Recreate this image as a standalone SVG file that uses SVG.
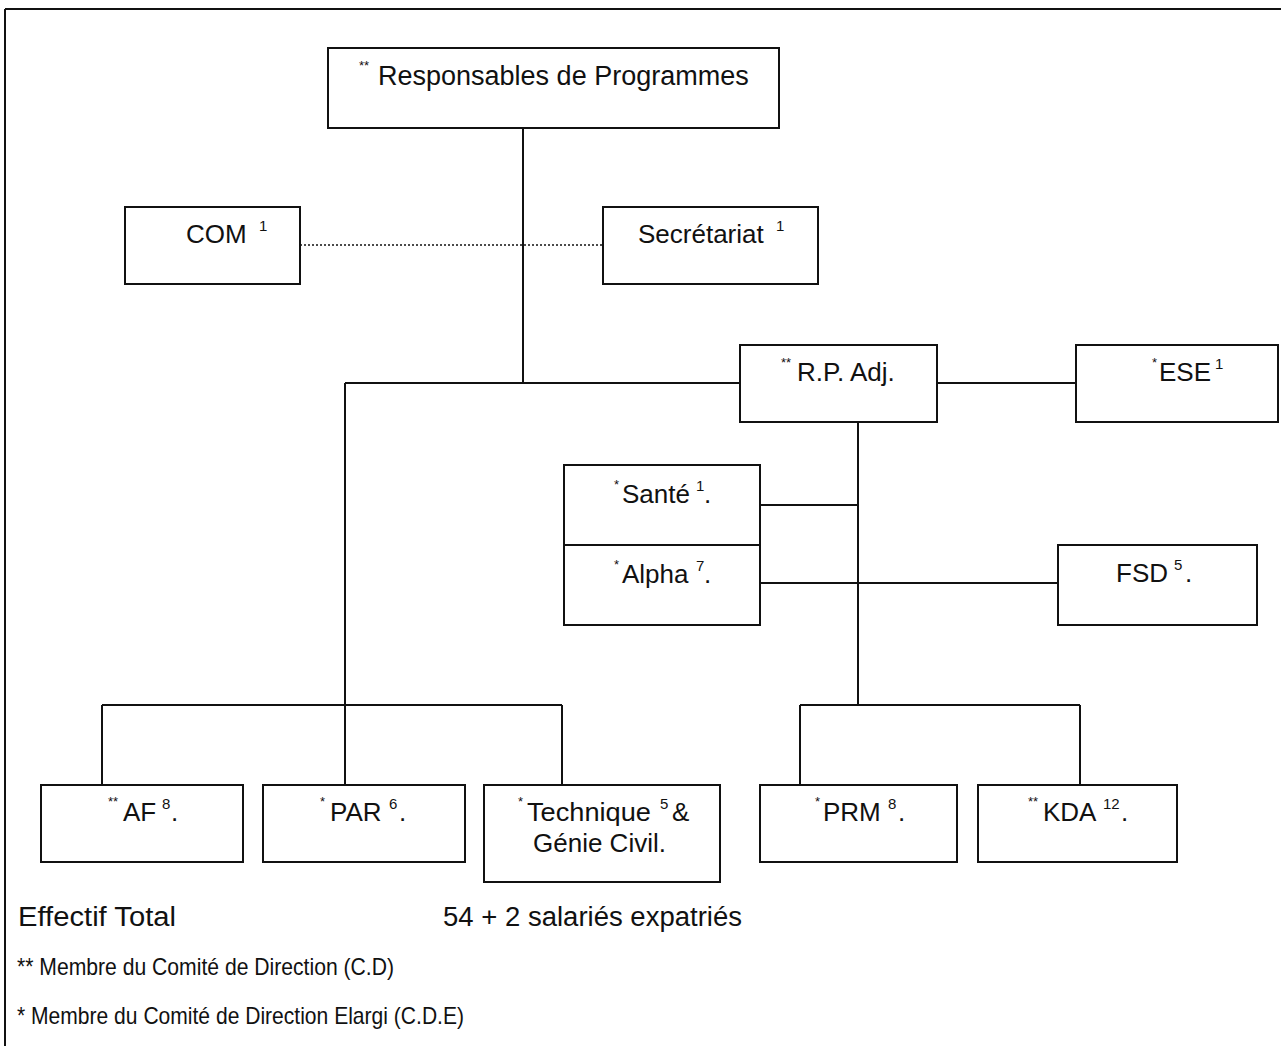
<svg xmlns="http://www.w3.org/2000/svg" width="1281" height="1046" viewBox="0 0 1281 1046">
<style>
.box{fill:#fff;stroke:#111;stroke-width:2}
.ln{stroke:#111;stroke-width:2;fill:none}
.dot{stroke:#111;stroke-width:1.6;stroke-dasharray:2 2;fill:none}
text{font-family:"Liberation Sans",Arial,sans-serif;fill:#111}
.t{font-size:26px}
.s{font-size:15px}
.m{font-size:13px}
.f{font-size:24px}
.g{font-size:27px}
</style>
<rect width="1281" height="1046" fill="#fff"/>
<g id="frame">
<line class="ln" x1="5" y1="9" x2="1281" y2="9"/>
<line class="ln" x1="5" y1="9" x2="5" y2="1046"/>
</g>
<g id="connectors">
<line class="ln" x1="523" y1="128" x2="523" y2="383"/>
<line class="dot" x1="300" y1="245" x2="603" y2="245"/>
<line class="ln" x1="345" y1="383" x2="740" y2="383"/>
<line class="ln" x1="937" y1="383" x2="1076" y2="383"/>
<line class="ln" x1="345" y1="383" x2="345" y2="785"/>
<line class="ln" x1="102" y1="705" x2="562" y2="705"/>
<line class="ln" x1="102" y1="705" x2="102" y2="785"/>
<line class="ln" x1="562" y1="705" x2="562" y2="785"/>
<line class="ln" x1="858" y1="422" x2="858" y2="705"/>
<line class="ln" x1="760" y1="505" x2="858" y2="505"/>
<line class="ln" x1="760" y1="583" x2="1058" y2="583"/>
<line class="ln" x1="800" y1="705" x2="1080" y2="705"/>
<line class="ln" x1="800" y1="705" x2="800" y2="785"/>
<line class="ln" x1="1080" y1="705" x2="1080" y2="785"/>
</g>
<g id="n-rp">
<rect class="box" x="328" y="48" width="451" height="80"/>
<text class="m" x="359" y="70">**</text>
<text class="g" x="378" y="85">Responsables de Programmes</text>
</g>
<g id="n-com">
<rect class="box" x="125" y="207" width="175" height="77"/>
<text class="t" x="186" y="243">COM</text>
<text class="s" x="259" y="231">1</text>
</g>
<g id="n-sec">
<rect class="box" x="603" y="207" width="215" height="77"/>
<text class="t" x="638" y="243">Secrétariat</text>
<text class="s" x="776" y="231">1</text>
</g>
<g id="n-rpadj">
<rect class="box" x="740" y="345" width="197" height="77"/>
<text class="m" x="781" y="367">**</text>
<text class="t" x="797" y="381">R.P. Adj.</text>
</g>
<g id="n-ese">
<rect class="box" x="1076" y="345" width="202" height="77"/>
<text class="m" x="1152" y="367">*</text>
<text class="t" x="1159" y="381">ESE</text>
<text class="s" x="1215" y="369">1</text>
</g>
<g id="n-sante">
<rect class="box" x="564" y="465" width="196" height="80"/>
<text class="m" x="614" y="489">*</text>
<text class="t" x="622" y="503">Santé</text>
<text class="s" x="696" y="491">1</text>
<text class="t" x="704" y="503">.</text>
</g>
<g id="n-alpha">
<rect class="box" x="564" y="545" width="196" height="80"/>
<text class="m" x="614" y="569">*</text>
<text class="t" x="622" y="583">Alpha</text>
<text class="s" x="696" y="571">7</text>
<text class="t" x="704" y="583">.</text>
</g>
<g id="n-fsd">
<rect class="box" x="1058" y="545" width="199" height="80"/>
<text class="t" x="1116" y="582">FSD</text>
<text class="s" x="1174" y="570">5</text>
<text class="t" x="1185" y="582">.</text>
</g>
<g id="n-af">
<rect class="box" x="41" y="785" width="202" height="77"/>
<text class="m" x="108" y="806">**</text>
<text class="t" x="123" y="821">AF</text>
<text class="s" x="162" y="809">8</text>
<text class="t" x="171" y="821">.</text>
</g>
<g id="n-par">
<rect class="box" x="263" y="785" width="202" height="77"/>
<text class="m" x="320" y="806">*</text>
<text class="t" x="330" y="821">PAR</text>
<text class="s" x="389" y="809">6</text>
<text class="t" x="399" y="821">.</text>
</g>
<g id="n-tech">
<rect class="box" x="484" y="785" width="236" height="97"/>
<text class="m" x="518" y="806">*</text>
<text class="t" x="527" y="821" textLength="124" lengthAdjust="spacingAndGlyphs">Technique</text>
<text class="s" x="660" y="809">5</text>
<text class="t" x="672" y="821">&amp;</text>
<text class="t" x="533" y="852">Génie Civil.</text>
</g>
<g id="n-prm">
<rect class="box" x="760" y="785" width="197" height="77"/>
<text class="m" x="815" y="806">*</text>
<text class="t" x="823" y="821">PRM</text>
<text class="s" x="888" y="809">8</text>
<text class="t" x="898" y="821">.</text>
</g>
<g id="n-kda">
<rect class="box" x="978" y="785" width="199" height="77"/>
<text class="m" x="1028" y="806">**</text>
<text class="t" x="1043" y="821">KDA</text>
<text class="s" x="1103" y="809">12</text>
<text class="t" x="1121" y="821">.</text>
</g>
<g id="legend">
<text class="g" x="18" y="926" textLength="158" lengthAdjust="spacingAndGlyphs">Effectif Total</text>
<text class="g" x="443" y="926" textLength="299" lengthAdjust="spacingAndGlyphs">54 + 2 salariés expatriés</text>
<text class="f" x="17" y="975" textLength="377" lengthAdjust="spacingAndGlyphs">** Membre du Comité de Direction (C.D)</text>
<text class="f" x="17" y="1024" textLength="447" lengthAdjust="spacingAndGlyphs">* Membre du Comité de Direction Elargi (C.D.E)</text>
</g>
</svg>
